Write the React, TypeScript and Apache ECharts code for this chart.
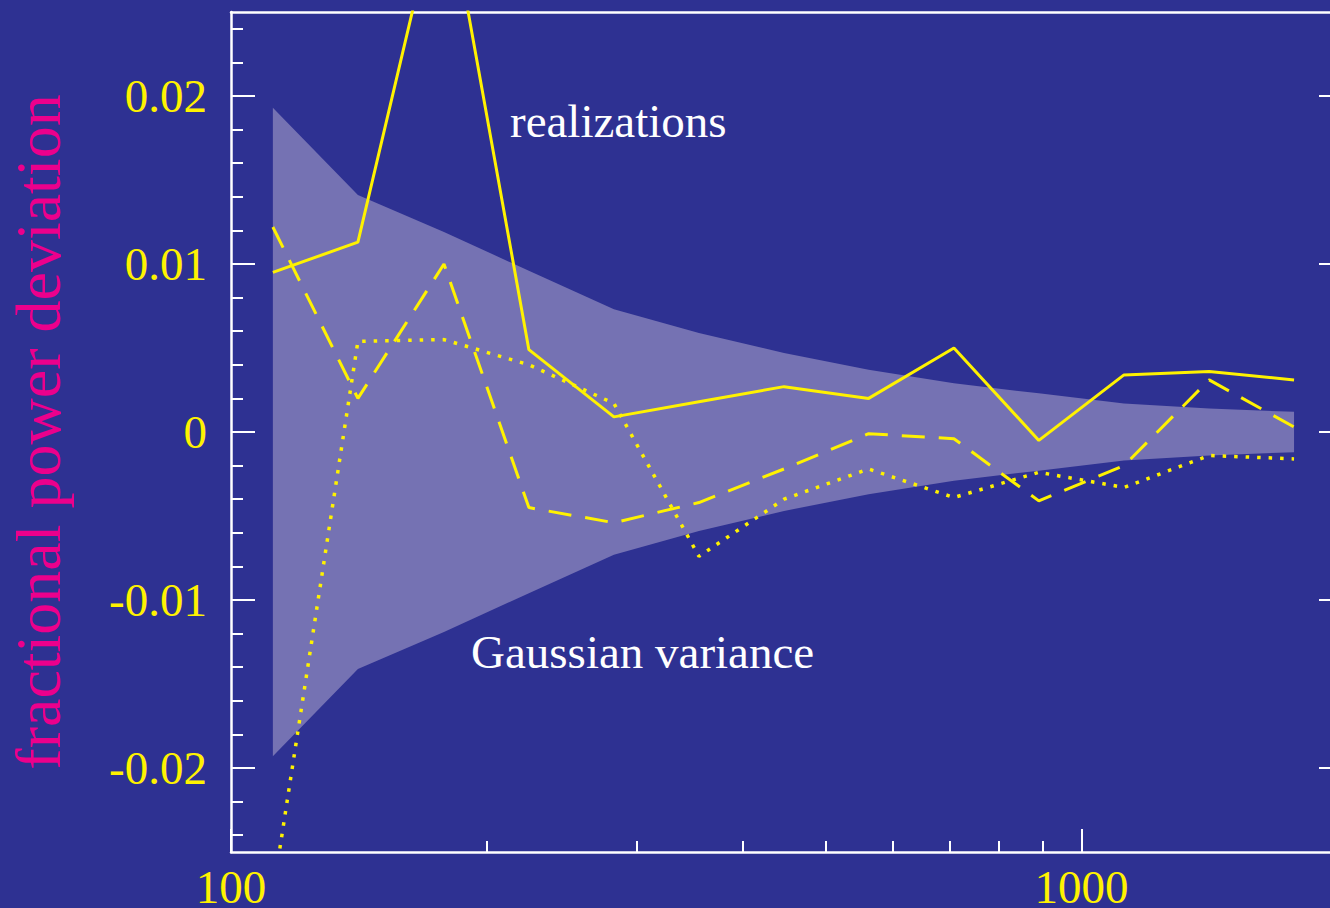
import React, { useEffect, useRef } from "react";
import * as echarts from "echarts";

// multipole l (log spaced)
const ELL = [112, 141, 178, 224, 282, 355, 447, 562, 708, 891, 1122, 1413, 1778];
// Gaussian variance half-width (band is +/-)
const GAUSS_SIGMA = [0.0193, 0.0141, 0.0119, 0.0096, 0.0073, 0.0059, 0.0047, 0.0037, 0.0029, 0.0023, 0.0017, 0.0014, 0.0012];
// realizations
const REAL_SOLID = [0.0095, 0.0113, 0.033, 0.0049, 0.0009, 0.0018, 0.0027, 0.002, 0.005, -0.0005, 0.0034, 0.0036, 0.0031];
const REAL_DASHED = [0.0122, 0.002, 0.01, -0.0045, -0.0054, -0.0042, -0.0022, -0.0001, -0.0004, -0.0041, -0.002, 0.0031, 0.0003];
const REAL_DOTTED = [-0.0275, 0.0054, 0.0055, 0.004, 0.0017, -0.0074, -0.004, -0.0022, -0.0039, -0.0024, -0.0033, -0.0014, -0.0016];

// ticks
const X_MAJOR = [100, 1000];
const X_MINOR = [200, 300, 400, 500, 600, 700, 800, 900, 2000];
const Y_MAJOR = [-0.02, -0.01, 0, 0.01, 0.02];
const Y_MINOR = [-0.024, -0.022, -0.018, -0.016, -0.014, -0.012, -0.008, -0.006, -0.004, -0.002, 0.002, 0.004, 0.006, 0.008, 0.012, 0.014, 0.016, 0.018, 0.022, 0.024];

const X_MIN = 100;
const X_MAX = 2030;
const Y_MIN = -0.025;
const Y_MAX = 0.025;

const BG = "#2e3192";
const BAND = "#7572b3";
const YELLOW = "#fff200";
const WHITE = "#ffffff";
const MAGENTA = "#ec008c";
const FONT = "'Liberation Serif', 'Times New Roman', serif";

function xAxisDef(pos: string, ticks: number[] | null, len: number, labels: boolean, line: boolean) {
  return {
    type: "log",
    logBase: 10,
    min: X_MIN,
    max: X_MAX,
    position: pos,
    axisLine: { show: line, onZero: false, lineStyle: { color: WHITE, width: 2.5 } },
    axisTick: ticks
      ? { show: true, inside: true, length: len, customValues: ticks, lineStyle: { color: WHITE, width: 2 } }
      : { show: false },
    axisLabel: labels
      ? {
          show: true,
          customValues: X_MAJOR,
          color: YELLOW,
          fontSize: 47,
          fontFamily: FONT,
          margin: 11,
          formatter: (v: number) => String(Math.round(v)),
        }
      : { show: false },
    splitLine: { show: false },
    minorTick: { show: false },
  };
}

function yAxisDef(pos: string, ticks: number[], len: number, labels: boolean, line: boolean) {
  return {
    type: "value",
    min: Y_MIN,
    max: Y_MAX,
    position: pos,
    axisLine: { show: line, onZero: false, lineStyle: { color: WHITE, width: 2.5 } },
    axisTick: { show: true, inside: true, length: len, customValues: ticks, lineStyle: { color: WHITE, width: 2 } },
    axisLabel: labels
      ? {
          show: true,
          customValues: Y_MAJOR,
          color: YELLOW,
          fontSize: 47,
          fontFamily: FONT,
          margin: 24,
          formatter: (v: number) => (Math.abs(v) < 1e-9 ? "0" : v.toFixed(2)),
        }
      : { show: false },
    splitLine: { show: false },
  };
}

export default function App() {
  const ref = useRef<HTMLDivElement>(null);

  useEffect(() => {
    if (!ref.current) return;
    const chart = echarts.init(ref.current, null, { renderer: "svg" });

    const band = ELL.map((l, i) => [l, GAUSS_SIGMA[i]]);
    const solid = ELL.map((l, i) => [l, REAL_SOLID[i]]);
    const dashed = ELL.map((l, i) => [l, REAL_DASHED[i]]);
    const dotted = ELL.map((l, i) => [l, REAL_DOTTED[i]]);

    const lineCommon = {
      type: "line",
      xAxisIndex: 0,
      yAxisIndex: 0,
      symbol: "none",
      clip: true,
      silent: true,
    };

    chart.setOption({
      animation: false,
      backgroundColor: BG,
      grid: {
        left: 231,
        top: 12,
        width: 1112,
        height: 840,
        containLabel: false,
        outerBoundsMode: "none",
      },
      xAxis: [
        xAxisDef("bottom", X_MAJOR, 23, true, true),
        xAxisDef("bottom", X_MINOR, 11, false, false),
        xAxisDef("top", null, 0, false, true),
      ],
      yAxis: [
        yAxisDef("left", Y_MAJOR, 24, true, true),
        yAxisDef("left", Y_MINOR, 12, false, false),
        yAxisDef("right", Y_MAJOR, 24, false, true),
        yAxisDef("right", Y_MINOR, 12, false, false),
      ],
      series: [
        {
          type: "custom",
          name: "Gaussian variance",
          xAxisIndex: 0,
          yAxisIndex: 0,
          silent: true,
          clip: true,
          data: band,
          encode: { x: 0, y: 1 },
          renderItem: (params: any, api: any) => {
            if (params.dataIndex !== 0) return null;
            const up = band.map((d) => api.coord([d[0], d[1]]));
            const lo = band
              .slice()
              .reverse()
              .map((d) => api.coord([d[0], -d[1]]));
            return {
              type: "polygon",
              shape: { points: up.concat(lo) },
              style: { fill: BAND },
            };
          },
        },
        {
          ...lineCommon,
          name: "solid",
          data: solid,
          lineStyle: { color: YELLOW, width: 3, type: "solid" },
        },
        {
          ...lineCommon,
          name: "dashed",
          data: dashed,
          lineStyle: { color: YELLOW, width: 3, type: [23, 14] },
        },
        {
          ...lineCommon,
          name: "dotted",
          data: dotted,
          lineStyle: { color: YELLOW, width: 3.5, type: [3.5, 8] },
        },
      ],
      graphic: [
        {
          type: "text",
          x: 510,
          y: 121,
          silent: true,
          style: {
            text: "realizations",
            fill: WHITE,
            fontSize: 47,
            fontFamily: FONT,
            align: "left",
            verticalAlign: "middle",
            textAlign: "left",
            textVerticalAlign: "middle",
          },
        },
        {
          type: "text",
          x: 471,
          y: 652,
          silent: true,
          style: {
            text: "Gaussian variance",
            fill: WHITE,
            fontSize: 47,
            fontFamily: FONT,
            align: "left",
            verticalAlign: "middle",
            textAlign: "left",
            textVerticalAlign: "middle",
          },
        },
        {
          type: "text",
          x: 38,
          y: 432,
          rotation: Math.PI / 2,
          silent: true,
          style: {
            text: "fractional power deviation",
            fill: MAGENTA,
            fontSize: 64,
            fontFamily: FONT,
            align: "center",
            verticalAlign: "middle",
            textAlign: "center",
            textVerticalAlign: "middle",
          },
        },
      ],
    });

    return () => chart.dispose();
  }, []);

  return (
    <div
      ref={ref}
      style={{ position: "fixed", left: 0, top: 0, width: 1330, height: 908 }}
    />
  );
}
